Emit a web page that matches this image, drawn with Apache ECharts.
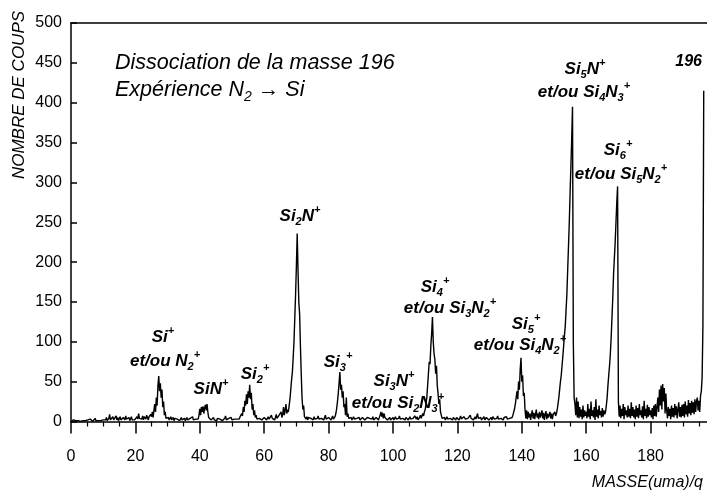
<!DOCTYPE html>
<html><head><meta charset="utf-8">
<script src="https://cdn.jsdelivr.net/npm/echarts@6/dist/echarts.min.js"></script>
<style>html,body{margin:0;padding:0;background:#fff}#c{width:707px;height:494px}</style>
</head><body><div id="c"></div>
<script>
// Sampling grid of the spectrum (mass in uma/q)
const massStart = 0;
const massStep = 0.25;
// Counts, one row per 5 uma (20 samples per row)
const counts = [
  0,1,0,2,1,0,1,2,0,1,3,1,0,2,1,1,0,2,1,0,
  1,2,0,1,3,1,2,0,1,2,4,1,0,2,1,3,0,1,2,1,
  2,1,3,2,5,1,2,4,9,2,3,1,6,2,4,3,7,2,5,1,
  3,6,2,4,1,5,3,2,7,3,4,2,5,1,3,6,2,4,3,2,
  4,2,6,3,10,4,2,5,3,7,2,6,4,3,8,5,2,6,4,9,
  6,12,5,14,22,12,30,20,45,57,38,48,30,40,18,25,8,12,4,6,
  3,5,2,4,6,2,3,5,1,4,2,6,3,2,4,1,3,5,2,3,
  2,4,1,3,5,2,3,1,4,2,3,6,2,1,4,3,2,5,3,8,
  16,8,18,12,19,10,17,21,14,22,12,5,3,6,2,4,3,5,2,4,
  3,1,4,2,6,3,2,5,1,3,2,4,7,2,3,1,4,2,3,5,
  2,4,1,3,2,5,3,2,4,3,6,4,10,7,18,12,26,20,34,22,
  38,30,46,28,36,15,22,8,14,5,8,3,5,2,4,3,6,2,4,3,
  5,3,7,2,4,6,3,5,2,8,4,3,6,2,5,9,4,3,7,5,
  6,12,5,9,18,8,14,22,10,15,12,20,28,40,52,62,80,100,130,160,
  195,236,190,150,135,95,60,30,15,20,6,5,3,6,2,5,3,7,4,2,
  4,2,6,3,5,2,4,7,3,5,2,4,6,3,2,5,8,3,4,2,
  5,3,6,2,4,7,3,5,6,10,16,25,35,48,62,40,46,30,38,18,
  22,8,30,6,10,4,6,3,5,2,4,6,3,5,2,4,6,3,5,2,
  4,2,5,3,6,2,4,3,5,7,3,4,2,5,3,6,2,4,3,5,
  3,5,2,4,8,12,6,11,4,10,5,3,6,2,4,3,5,2,4,3,
  5,2,4,6,3,5,2,4,7,3,5,2,4,3,6,2,5,3,4,2,
  4,6,3,5,2,4,3,7,5,3,6,2,4,5,8,4,6,10,7,12,
  15,22,30,45,60,75,72,95,110,131,100,85,78,60,70,45,35,22,28,12,
  8,4,6,3,5,2,4,6,3,5,2,4,3,6,2,5,3,4,2,5,
  3,5,2,4,7,3,5,2,6,4,3,5,2,4,6,3,8,4,3,5,
  2,4,6,3,5,10,4,6,3,5,2,4,3,6,2,4,5,3,6,2,
  4,3,5,2,6,4,3,5,2,4,7,3,5,2,4,3,6,2,5,3,
  4,6,3,5,2,4,6,3,5,8,12,16,22,30,38,28,50,40,65,80,
  50,58,32,36,15,4,14,3,12,5,10,2,9,14,4,11,3,9,15,5,
  10,3,12,5,9,14,4,11,2,9,13,3,10,5,8,12,4,10,3,9,
  8,12,7,10,15,22,30,40,50,58,70,82,95,108,120,140,160,190,220,250,
  287,320,355,395,100,30,22,8,30,5,25,4,18,6,15,3,20,5,14,7,
  12,4,22,6,16,3,25,7,14,5,18,2,28,6,15,4,20,8,13,5,
  17,6,14,9,12,20,30,45,58,70,85,105,130,155,185,205,225,250,275,295,
  25,6,20,4,16,7,22,3,18,8,14,5,20,6,16,4,24,7,18,5,
  15,3,20,6,17,4,22,8,14,5,19,3,26,7,16,4,21,6,18,8,
  14,5,17,3,20,7,22,6,18,30,12,40,20,45,15,47,25,42,10,35,
  14,4,18,7,16,3,20,6,17,5,22,8,19,4,15,24,6,18,5,21,
  7,22,5,25,9,20,6,27,10,23,8,26,11,24,9,28,12,25,30,14,
  26,12,32,38,55,120,415
];
const xTickLabels = [0,20,40,60,80,100,120,140,160,180];
const yTickLabels = [0,50,100,150,200,250,300,350,400,450,500];

const FONT = "'Liberation Sans', Arial, Helvetica, sans-serif";
const seriesData = counts.map((c, i) => [massStart + i * massStep, c]);

function richSet(size, bold) {
  const w = bold ? 'bold' : 'normal';
  const small = Math.round(size * 0.66);
  return {
    b: {fontFamily: FONT, fontSize: size, fontStyle: 'italic', fontWeight: w, lineHeight: Math.round(size * 1.35), fill: '#000'},
    sub: {fontFamily: FONT, fontSize: small, fontStyle: 'italic', fontWeight: w, lineHeight: small, verticalAlign: 'bottom', fill: '#000'},
    sup: {fontFamily: FONT, fontSize: small, fontStyle: 'italic', fontWeight: w, lineHeight: small, verticalAlign: 'top', fill: '#000'}
  };
}
function txt(x, y, text, opts) {
  opts = opts || {};
  const size = opts.size || 17;
  return {
    type: 'text', x: x, y: y, silent: true,
    style: {
      text: text, rich: richSet(size, opts.bold !== false),
      align: opts.align || 'center', verticalAlign: 'middle'
    }
  };
}

const labels = [
  txt(163, 337, '{b|Si}{sup|+}'),
  txt(165, 361, '{b|et/ou N}{sub|2}{sup|+}'),
  txt(211, 389, '{b|SiN}{sup|+}'),
  txt(255, 374, '{b|Si}{sub|2}{sup|+}'),
  txt(300, 216, '{b|Si}{sub|2}{b|N}{sup|+}'),
  txt(338, 362, '{b|Si}{sub|3}{sup|+}'),
  txt(394, 381, '{b|Si}{sub|3}{b|N}{sup|+}'),
  txt(398, 403, '{b|et/ou Si}{sub|2}{b|N}{sub|3}{sup|+}'),
  txt(435, 287, '{b|Si}{sub|4}{sup|+}'),
  txt(450, 308, '{b|et/ou Si}{sub|3}{b|N}{sub|2}{sup|+}'),
  txt(526, 324, '{b|Si}{sub|5}{sup|+}'),
  txt(520, 345, '{b|et/ou Si}{sub|4}{b|N}{sub|2}{sup|+}'),
  txt(585, 69, '{b|Si}{sub|5}{b|N}{sup|+}'),
  txt(584, 92, '{b|et/ou Si}{sub|4}{b|N}{sub|3}{sup|+}'),
  txt(618, 150, '{b|Si}{sub|6}{sup|+}'),
  txt(621, 174, '{b|et/ou Si}{sub|5}{b|N}{sub|2}{sup|+}'),
  txt(702, 62, '{b|196}', {align: 'right', size: 16}),
  txt(115, 63, '{b|Dissociation de la masse 196}', {align: 'left', size: 21.5, bold: false}),
  txt(115, 90, '{b|Expérience N}{sub|2}{b| → Si}', {align: 'left', size: 21.5, bold: false}),
  {
    type: 'text', x: 19, y: 95, rotation: Math.PI / 2, silent: true,
    style: {text: 'NOMBRE DE COUPS', font: 'italic 17px ' + FONT, fill: '#000', align: 'center', verticalAlign: 'middle'}
  },
  {
    type: 'text', x: 703, y: 483, silent: true,
    style: {text: 'MASSE(uma)/q', font: 'italic 16px ' + FONT, fill: '#000', align: 'right', verticalAlign: 'middle'}
  }
];

const chart = echarts.init(document.getElementById('c'), null, {renderer: 'canvas'});
chart.setOption({
  animation: false,
  backgroundColor: '#fff',
  grid: {left: 71, right: -8, top: 23, bottom: 72.5, containLabel: false, outerBoundsMode: 'none'},
  xAxis: [{
    type: 'value', min: 0, max: 200, interval: 20,
    axisLine: {onZero: false, lineStyle: {color: '#000', width: 1.5}},
    axisTick: {show: true, inside: false, length: 12, lineStyle: {color: '#000', width: 1.5}},
    minorTick: {show: true, splitNumber: 4, length: 5, lineStyle: {color: '#000', width: 1.2}},
    axisLabel: {color: '#000', fontSize: 16, fontFamily: FONT, margin: 27,
      formatter: v => xTickLabels.indexOf(v) >= 0 ? String(v) : ''},
    splitLine: {show: false}, minorSplitLine: {show: false}
  }, {
    type: 'value', position: 'top', min: 0, max: 200,
    axisLine: {show: true, onZero: false, lineStyle: {color: '#000', width: 1.5}},
    axisTick: {show: false}, axisLabel: {show: false}, splitLine: {show: false}
  }],
  yAxis: {
    type: 'value', min: 0, max: 500, interval: 50,
    axisLine: {show: true, onZero: false, lineStyle: {color: '#000', width: 1.5}},
    axisTick: {show: true, inside: true, length: 6, lineStyle: {color: '#000', width: 1.5}},
    axisLabel: {color: '#000', fontSize: 16, fontFamily: FONT, margin: 9,
      formatter: v => yTickLabels.indexOf(v) >= 0 ? String(v) : ''},
    splitLine: {show: false}
  },
  series: [{
    type: 'line', xAxisIndex: 0, data: seriesData, symbol: 'none', showSymbol: false,
    lineStyle: {color: '#000', width: 1.4}, clip: true
  }],
  graphic: labels
});
</script>
</body></html>
